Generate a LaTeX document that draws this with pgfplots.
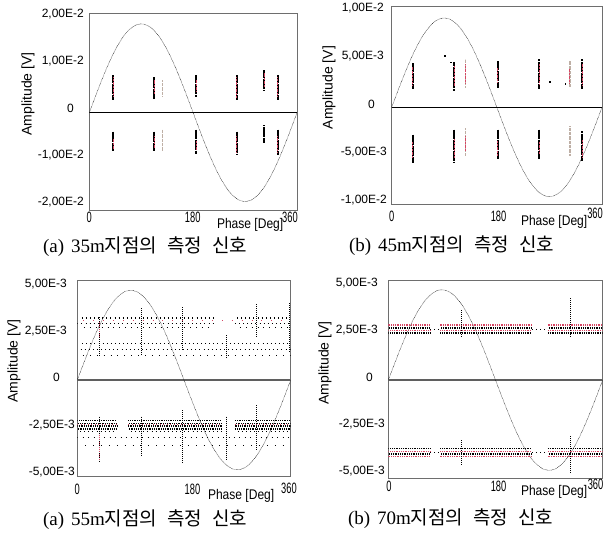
\documentclass[border=0pt]{standalone}
\usepackage{pgfplots}
\pgfplotsset{compat=1.18}
\usepackage{graphicx}
\usepackage{fontspec}
\setmainfont{Liberation Serif}
\newfontfamily\sansf{Liberation Sans}
\newfontfamily\cjk{Noto Sans CJK KR}
\definecolor{pdred}{RGB}{215,70,100}
\definecolor{boxgray}{RGB}{110,110,110}
\definecolor{lightg}{RGB}{190,175,165}
\definecolor{zerogray}{RGB}{95,95,95}
\pgfplotsset{
  panel/.style={scale only axis, anchor=south west, xmin=0, xmax=360,
    xtick=\empty, major tick length=0pt,
    axis line style={boxgray, line width=0.7pt},
    unbounded coords=jump,
    yticklabel style={font=\fontsize{12}{12}\sansf, anchor=east, inner sep=0pt}},
  sine/.style={black, line width=0.45pt, dash pattern=on 0.55pt off 0.75pt, smooth},
  streak/.style={black, line width=1.8pt, dash pattern=on 0.6pt off 0.5pt},
  lstreak/.style={lightg, line width=1.4pt, dash pattern=on 0.6pt off 0.7pt},
  rstreak/.style={pdred, line width=1.0pt, dash pattern=on 0.7pt off 0.7pt},
  spike/.style={black, line width=0.8pt, dash pattern=on 0.8pt off 1.2pt},
  sparse/.style={black, line width=1.1pt, dash pattern=on 0.9pt off 3.2pt},
  dense/.style={black, line width=1.5pt, dash pattern=on 0.9pt off 0.9pt},
  rdense/.style={pdred, line width=1.6pt, dash pattern=on 1.0pt off 0.8pt},
}
\newcommand{\xl}[1]{\scalebox{0.62}[1]{\fontsize{15}{15}\sansf #1}}
\newcommand{\phl}{\scalebox{0.86}[1]{\fontsize{14}{14}\sansf Phase [Deg]}}
\newcommand{\aml}{\fontsize{14}{14}\sansf Amplitude [V]}
\newcommand{\capt}[2]{\fontsize{19}{19}\selectfont #1\hspace{7pt}#2{\cjk 지점의}\hspace{10pt}{\cjk 측정}\hspace{10pt}{\cjk 신호}}
\begin{document}
\begin{tikzpicture}
\useasboundingbox (0,0) rectangle (612pt,-539pt);
\fill[white] (0,0) rectangle (612pt,-539pt);

% ---------------- (a) 35 m ----------------
\begin{axis}[panel, at={(89.3pt,-210pt)}, width=207.7pt, height=196.7pt,
  ymin=-20.7, ymax=21.15, ytick={-20,-10,0,10,20},
  yticklabels={{-2,00E-2},{-1,00E-2},{0\hspace*{10pt}},{1,00E-2},{2,00E-2}},
  yticklabel style={xshift=-5.3pt, yshift=4.3pt}]
\addplot[black, line width=1.3pt] coordinates {(0,0) (360,0)};
\addplot[sine] coordinates {(0,0)(10,3.28)(20,6.46)(30,9.45)(40,12.15)(50,14.48)(60,16.37)(70,17.76)(80,18.61)(90,18.9)(100,18.61)(110,17.76)(120,16.37)(130,14.48)(140,12.15)(150,9.45)(160,6.46)(170,3.28)(180,0)(190,-3.28)(200,-6.46)(210,-9.45)(220,-12.15)(230,-14.48)(240,-16.37)(250,-17.76)(260,-18.61)(270,-18.9)(280,-18.61)(290,-17.76)(300,-16.37)(310,-14.48)(320,-12.15)(330,-9.45)(340,-6.46)(350,-3.28)(360,0)};
\addplot[lstreak] coordinates {(126.5,3.5)(126.5,7.0)(126.5,nan)(126.5,-3.6)(126.5,-8.2)};
\addplot[streak] coordinates {(41.6,2.8)(41.6,8.1)(41.6,nan)(41.6,-4.0)(41.6,-8.2)(41.6,nan)
 (112.7,2.9)(112.7,7.7)(112.7,nan)(112.7,-4.0)(112.7,-8.2)(112.7,nan)
 (185,3.5)(185,8.0)(185,nan)(185,-3.6)(185,-8.6)(185,nan)
 (255.5,2.8)(255.5,8.0)(255.5,nan)(255.5,-4.0)(255.5,-8.9)(255.5,nan)
 (303,4.8)(303,9.1)(303,nan)(303,-2.7)(303,-6.4)(303,nan)
 (326.5,2.8)(326.5,8.0)(326.5,nan)(326.5,-3.6)(326.5,-8.9)};
\addplot[rstreak] coordinates {(41.6,3.5)(41.6,7.5)(41.6,nan)(41.6,-5.5)(41.6,-7.8)(41.6,nan)
 (112.7,4.0)(112.7,7.0)(112.7,nan)(112.7,-5.0)(112.7,-7.5)(112.7,nan)
 (185,4.5)(185,7.0)(185,nan)(185,-6.0)(185,-8.0)(185,nan)
 (255.5,3.2)(255.5,7.5)(255.5,nan)(255.5,-5.0)(255.5,-8.5)(255.5,nan)
 (303,5.5)(303,8.5)(303,nan)
 (326.5,3.5)(326.5,7.5)(326.5,nan)(326.5,-5.0)(326.5,-8.5)};
\end{axis}

% ---------------- (b) 45 m ----------------
\begin{axis}[panel, at={(391.7pt,-204pt)}, width=210.3pt, height=198pt,
  ymin=-10.07, ymax=10.55, ytick={-10,-5,0,5,10},
  yticklabels={{-1,00E-2},{-5,00E-3},{0\hspace*{12pt}},{5,00E-3\hspace*{3pt}},{1,00E-2\hspace*{3pt}}},
  yticklabel style={xshift=-4.7pt, yshift=3pt}]
\addplot[black, line width=1.3pt] coordinates {(0,0) (360,0)};
\addplot[sine] coordinates {(0,0)(10,1.62)(20,3.18)(30,4.65)(40,5.98)(50,7.12)(60,8.05)(70,8.74)(80,9.16)(90,9.3)(100,9.16)(110,8.74)(120,8.05)(130,7.12)(140,5.98)(150,4.65)(160,3.18)(170,1.62)(180,0)(190,-1.62)(200,-3.18)(210,-4.65)(220,-5.98)(230,-7.12)(240,-8.05)(250,-8.74)(260,-9.16)(270,-9.3)(280,-9.16)(290,-8.74)(300,-8.05)(310,-7.12)(320,-5.98)(330,-4.65)(340,-3.18)(350,-1.62)(360,0)};
\addplot[lstreak] coordinates {(126,2.05)(126,5.03)(126,nan)(126,-2.16)(126,-5.07)(126,nan)
 (305,2.12)(305,4.86)(305,nan)(305,-1.99)(305,-5.07)};
\addplot[streak] coordinates {(36,1.95)(36,4.68)(36,nan)(36,-2.84)(36,-5.75)(36,nan)
 (107,1.78)(107,4.68)(107,nan)(107,-2.33)(107,-5.75)(107,nan)
 (181.5,2.05)(181.5,4.86)(181.5,nan)(181.5,-2.33)(181.5,-5.41)(181.5,nan)
 (252.7,1.95)(252.7,5.03)(252.7,nan)(252.7,-2.33)(252.7,-5.41)(252.7,nan)
 (325.8,1.95)(325.8,5.03)(325.8,nan)(325.8,-2.5)(325.8,-5.59)};
\addplot[rstreak] coordinates {(36,2.3)(36,4.2)(36,nan)(36,-3.6)(36,-5.3)(36,nan)
 (107,2.2)(107,4.3)(107,nan)(107,-3.3)(107,-5.3)(107,nan)
 (126,2.5)(126,4.5)(126,nan)(126,-3.0)(126,-4.6)(126,nan)
 (181.5,2.6)(181.5,4.2)(181.5,nan)(181.5,-3.5)(181.5,-5.0)(181.5,nan)
 (252.7,2.4)(252.7,4.5)(252.7,nan)(252.7,-3.6)(252.7,-4.9)(252.7,nan)
 (305,2.5)(305,4.0)(305,nan)
 (325.8,2.3)(325.8,4.6)(325.8,nan)(325.8,-3.4)(325.8,-5.2)};
\addplot[only marks, mark=square*, mark size=0.45pt, black] coordinates {(90,5.37)(101.5,4.7)(270,2.63)(297,2.5)};
\end{axis}

% ---------------- (c) 55 m ----------------
\begin{axis}[panel, at={(77.3pt,-476.7pt)}, width=213.4pt, height=196pt,
  ymin=-5.14, ymax=5.28, ytick={-5,-2.5,0,2.5,5},
  yticklabels={{-5,00E-3},{-2,50E-3},{0\hspace*{15pt}},{2,50E-3\hspace*{8pt}},{5,00E-3\hspace*{8pt}}},
  yticklabel style={xshift=-2.3pt, yshift=2.4pt}]
\addplot[zerogray, line width=1.4pt] coordinates {(0,0) (360,0)};
\addplot[sine] coordinates {(0,0)(10,0.83)(20,1.63)(30,2.39)(40,3.07)(50,3.65)(60,4.13)(70,4.48)(80,4.70)(90,4.77)(100,4.70)(110,4.48)(120,4.13)(130,3.65)(140,3.07)(150,2.39)(160,1.63)(170,0.83)(180,0)(190,-0.83)(200,-1.63)(210,-2.39)(220,-3.07)(230,-3.65)(240,-4.13)(250,-4.48)(260,-4.70)(270,-4.77)(280,-4.70)(290,-4.48)(300,-4.13)(310,-3.65)(320,-3.07)(330,-2.39)(340,-1.63)(350,-0.83)(360,0)};
% sparse upper bands
\addplot[sparse] coordinates {(0,3.0)(229,3.0)(229,nan)(266,3.0)(360,3.0)};
\addplot[sparse, dash phase=2pt] coordinates {(4,3.3)(229,3.3)(229,nan)(266,3.3)(356,3.3)};
\addplot[sparse, dash pattern=on 0.9pt off 5pt, dash phase=1pt] coordinates {(3,2.8)(229,2.8)(229,nan)(266,2.8)(360,2.8)};
\addplot[sparse, dash phase=1pt] coordinates {(3,1.95)(360,1.95)};
\addplot[sparse, dash phase=2.6pt] coordinates {(3,1.6)(360,1.6)};
\addplot[sparse, dash pattern=on 0.9pt off 6pt, dash phase=3pt] coordinates {(3,1.3)(360,1.3)};
\addplot[pdred, line width=1pt, dash pattern=on 0.9pt off 9pt] coordinates {(10,3.15)(350,3.15)};
% dense lower band
\addplot[dense] coordinates {(0,-2.15)(66.5,-2.15)(66.5,nan)(86,-2.15)(243.6,-2.15)(243.6,nan)(266,-2.15)(360,-2.15)};
\addplot[dense, dash phase=1pt] coordinates {(0,-2.3)(66.5,-2.3)(66.5,nan)(86,-2.3)(243.6,-2.3)(243.6,nan)(266,-2.3)(360,-2.3)};
\addplot[dense, dash phase=0.4pt] coordinates {(0,-2.45)(66.5,-2.45)(66.5,nan)(86,-2.45)(243.6,-2.45)(243.6,nan)(266,-2.45)(360,-2.45)};
\addplot[dense, dash phase=1.3pt] coordinates {(0,-2.6)(66.5,-2.6)(66.5,nan)(86,-2.6)(243.6,-2.6)(243.6,nan)(266,-2.6)(360,-2.6)};
\addplot[sparse, dash phase=1.3pt] coordinates {(0,-2.75)(66.5,-2.75)(66.5,nan)(86,-2.75)(243.6,-2.75)(243.6,nan)(266,-2.75)(360,-2.75)};
\addplot[pdred, line width=1.2pt, dash pattern=on 0.9pt off 2.6pt] coordinates {(0,-2.38)(66.5,-2.38)(66.5,nan)(86,-2.38)(243.6,-2.38)(243.6,nan)(266,-2.38)(360,-2.38)};
% sparse below
\addplot[sparse, dash pattern=on 0.9pt off 4.5pt] coordinates {(0,-3.05)(360,-3.05)};
\addplot[sparse, dash pattern=on 0.9pt off 7pt, dash phase=3pt] coordinates {(5,-3.5)(355,-3.5)};
% vertical spikes
\addplot[spike] coordinates {(36.6,1.3)(36.6,3.4)(36.6,nan)(36.6,-1.95)(36.6,-4.35)(36.6,nan)
 (108.6,1.33)(108.6,3.83)(108.6,nan)(108.6,-1.95)(108.6,-4.0)(108.6,nan)
 (177.8,1.6)(177.8,3.9)(177.8,nan)(177.8,-1.6)(177.8,-4.4)(177.8,nan)
 (252,1.17)(252,2.4)(252,nan)(252,-1.95)(252,-4.2)(252,nan)
 (302.6,2.3)(302.6,4.1)(302.6,nan)(302.6,-1.33)(302.6,-3.7)(302.6,nan)
 (358,1.5)(358,4.1)};
\addplot[pdred, line width=0.8pt, dash pattern=on 0.8pt off 1.6pt] coordinates {(36.6,-2.9)(36.6,-4.3)(36.6,nan)(36.6,2.3)(36.6,3.1)};
\end{axis}

% ---------------- (d) 70 m ----------------
\begin{axis}[panel, at={(388.3pt,-478pt)}, width=214.4pt, height=198pt,
  ymin=-5.21, ymax=5.32, ytick={-5,-2.5,0,2.5,5},
  yticklabels={{-5,00E-3},{-2,50E-3},{0\hspace*{12pt}},{2,50E-3\hspace*{7pt}},{5,00E-3\hspace*{7pt}}},
  yticklabel style={xshift=-3.3pt, yshift=2.7pt}]
\addplot[zerogray, line width=1.4pt] coordinates {(0,0) (360,0)};
\addplot[sine] coordinates {(0,0)(10,0.83)(20,1.64)(30,2.40)(40,3.09)(50,3.68)(60,4.16)(70,4.51)(80,4.73)(90,4.80)(100,4.73)(110,4.51)(120,4.16)(130,3.68)(140,3.09)(150,2.40)(160,1.64)(170,0.83)(180,0)(190,-0.83)(200,-1.64)(210,-2.40)(220,-3.09)(230,-3.68)(240,-4.16)(250,-4.51)(260,-4.73)(270,-4.80)(280,-4.73)(290,-4.51)(300,-4.16)(310,-3.68)(320,-3.09)(330,-2.40)(340,-1.64)(350,-0.83)(360,0)};
% upper band
\addplot[dense] coordinates {(0,2.5)(70,2.5)(70,nan)(87,2.5)(241,2.5)(241,nan)(268,2.5)(360,2.5)};
\addplot[rdense] coordinates {(0,2.64)(70,2.64)(70,nan)(87,2.64)(241,2.64)(241,nan)(268,2.64)(360,2.64)};
\addplot[dense, dash phase=0.9pt] coordinates {(0,2.78)(70,2.78)(70,nan)(87,2.78)(241,2.78)(241,nan)(268,2.78)(360,2.78)};
\addplot[rdense, dash phase=0.8pt] coordinates {(0,2.92)(70,2.92)(70,nan)(87,2.92)(241,2.92)(241,nan)(268,2.92)(360,2.92)};
\addplot[sparse] coordinates {(70,2.7)(87,2.7)(87,nan)(241,2.7)(262,2.7)};
% lower band
\addplot[dense] coordinates {(0,-3.65)(70,-3.65)(70,nan)(87,-3.65)(241,-3.65)(241,nan)(268,-3.65)(360,-3.65)};
\addplot[rdense] coordinates {(0,-3.79)(70,-3.79)(70,nan)(87,-3.79)(241,-3.79)(241,nan)(268,-3.79)(360,-3.79)};
\addplot[dense, dash phase=0.9pt] coordinates {(0,-3.93)(70,-3.93)(70,nan)(87,-3.93)(241,-3.93)(241,nan)(268,-3.93)(360,-3.93)};
\addplot[rdense, dash phase=0.8pt] coordinates {(0,-4.07)(70,-4.07)(70,nan)(87,-4.07)(241,-4.07)(241,nan)(268,-4.07)(360,-4.07)};
\addplot[sparse] coordinates {(70,-3.85)(87,-3.85)(87,nan)(241,-3.85)(262,-3.85)};
% spikes
\addplot[spike] coordinates {(123,2.3)(123,3.72)(123,nan)(123,-3.19)(123,-4.52)(123,nan)
 (305,2.3)(305,4.36)(305,nan)(305,-3.0)(305,-4.95)};
\end{axis}

% ---------------- texts ----------------
\tikzset{every node/.style={inner sep=0pt, outer sep=0pt}}
% (a)
\node[rotate=90] at (28pt,-94pt) {\aml};
\node at (89.3pt,-217pt) {\xl{0}};
\node at (192.7pt,-217pt) {\xl{180}};
\node at (290pt,-217pt) {\xl{360}};
\node[anchor=west] at (217pt,-225pt) {\phl};
\node[anchor=west] at (43pt,-247pt) {\capt{(a)}{35m}};
% (b)
\node[rotate=90] at (329pt,-87.5pt) {\aml};
\node at (391.7pt,-216pt) {\xl{0}};
\node at (498.5pt,-216pt) {\xl{180}};
\node at (595pt,-213pt) {\xl{360}};
\node[anchor=west] at (521pt,-222pt) {\phl};
\node[anchor=west] at (349pt,-245.5pt) {\capt{(b)}{45m}};
% (c)
\node[rotate=90] at (14pt,-361pt) {\aml};
\node at (77.3pt,-489pt) {\xl{0}};
\node at (192.5pt,-489pt) {\xl{180}};
\node at (289pt,-488.5pt) {\xl{360}};
\node[anchor=west] at (208pt,-496pt) {\phl};
\node[anchor=west] at (43pt,-520pt) {\capt{(a)}{55m}};
% (d)
\node[rotate=90] at (325pt,-363pt) {\aml};
\node at (389pt,-486pt) {\xl{0}};
\node at (498.5pt,-486pt) {\xl{180}};
\node at (595.5pt,-484.5pt) {\xl{360}};
\node[anchor=west] at (521pt,-491.5pt) {\phl};
\node[anchor=west] at (348pt,-518.5pt) {\capt{(b)}{70m}};
\end{tikzpicture}
\end{document}
